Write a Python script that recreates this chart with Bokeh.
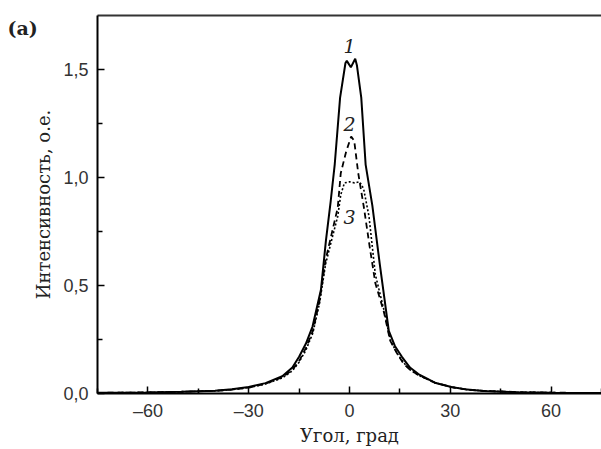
from bokeh.plotting import figure
from bokeh.models import Range1d, FixedTicker, LinearAxis, Label
from bokeh.embed import file_html
from bokeh.resources import INLINE
from bokeh.core.properties import value

# Curve 1 (solid)
x1 = [-75, -60, -50, -40, -35, -30, -25, -20, -17, -15, -13, -11, -8.5, -7, -5.6, -4.4, -2.8, -1.2, -0.8, 0.4,
      1.7, 2.2, 3.5, 4.8, 6.8, 9, 11.7, 13.5, 15.6, 18, 20.5, 25.4, 30.3, 35, 40, 50, 60, 75]
y1 = [0.003, 0.005, 0.008, 0.013, 0.02, 0.03, 0.048, 0.08, 0.12, 0.17, 0.23, 0.31, 0.48, 0.71, 0.89, 1.06, 1.37, 1.53, 1.54, 1.51,
      1.55, 1.52, 1.37, 1.06, 0.87, 0.6, 0.29, 0.22, 0.17, 0.12, 0.09, 0.05, 0.03, 0.018, 0.012, 0.006, 0.004, 0.002]
# Curve 2 (dashed)
x2 = [-75, -60, -50, -40, -35, -30, -25, -20, -17, -15, -13, -10.9, -8.9, -7.1, -5, -3.5, -2.6, -1, 0.5, 1.4,
      2.6, 4.3, 6, 7.7, 10.2, 12.1, 14, 16, 18, 20.5, 25.4, 30.3, 35, 40, 50, 60, 75]
y2 = [0.003, 0.005, 0.008, 0.012, 0.018, 0.027, 0.045, 0.075, 0.11, 0.15, 0.21, 0.29, 0.43, 0.62, 0.76, 0.86, 1.02, 1.12, 1.19, 1.17,
      1.02, 0.86, 0.68, 0.51, 0.38, 0.245, 0.19, 0.14, 0.11, 0.085, 0.05, 0.03, 0.018, 0.012, 0.006, 0.004, 0.002]
# Curve 3 (dotted)
x3 = [-75, -60, -50, -40, -35, -30, -25, -20, -17, -15, -13, -10.9, -8.9, -7.1, -5, -3.5, -2.6, -1.5, 0, 1.5,
      3.0, 3.8, 4.3, 5.8, 7.7, 10.2, 12.1, 14, 16, 18, 20.5, 25.4, 30.3, 35, 40, 50, 60, 75]
y3 = [0.003, 0.005, 0.008, 0.012, 0.018, 0.027, 0.044, 0.072, 0.105, 0.145, 0.2, 0.28, 0.42, 0.6, 0.73, 0.82, 0.92, 0.975, 0.98, 0.975,
      0.98, 0.96, 0.94, 0.82, 0.55, 0.39, 0.25, 0.19, 0.145, 0.11, 0.085, 0.05, 0.03, 0.018, 0.012, 0.006, 0.004, 0.002]

x_major = [-60, -30, 0, 30, 60]
x_minor = [-75, -45, -15, 15, 45, 75]
x_labels = {-60: "\u201360", -30: "\u201330", 0: "0", 30: "30", 60: "60"}
y_major = [0, 0.5, 1.0, 1.5]
y_minor = [0.25, 0.75, 1.25]
y_labels = {0: "0,0", 0.5: "0,5", 1: "1,0", 1.5: "1,5"}

curve_labels = ["1", "2", "3"]
label_x = [0, 0, 0]
label_y = [1.61, 1.25, 0.815]

p = figure(width=601, height=449, output_backend="svg", toolbar_location=None,
           x_range=Range1d(-75, 75), y_range=Range1d(0, 1.75),
           min_border_left=92, min_border_right=0, min_border_top=15, min_border_bottom=56)
p.grid.visible = False
p.outline_line_color = None
p.background_fill_color = "white"

p.line(x1, y1, line_color="black", line_width=2)
p.line(x2, y2, line_color="black", line_width=1.8, line_dash="6 4")
p.line(x3, y3, line_color="black", line_width=1.6, line_dash="2 2")

p.text(x=label_x, y=label_y, text=curve_labels, text_font=value("DejaVu Serif"),
       text_font_style="italic", text_font_size="19px", text_align="center",
       text_baseline="middle", text_color="#222222")

for ax in (p.xaxis[0], p.yaxis[0]):
    ax.axis_line_width = 2
    ax.axis_line_color = "black"
    ax.major_tick_in = 7
    ax.major_tick_out = 0
    ax.minor_tick_in = 5
    ax.minor_tick_out = 0
    ax.major_tick_line_width = 1.5
    ax.minor_tick_line_width = 1.5
    ax.major_label_text_font = "Liberation Sans Narrow, Liberation Sans"
    ax.major_label_text_font_size = "18px"
    ax.major_label_text_color = "#333333"
    ax.axis_label_text_font = "DejaVu Serif"
    ax.axis_label_text_font_size = "18px"
    ax.axis_label_text_font_style = "normal"
    ax.axis_label_text_color = "#222222"

p.xaxis[0].ticker = FixedTicker(ticks=x_major, minor_ticks=x_minor)
p.xaxis[0].major_label_overrides = x_labels
p.xaxis[0].axis_label = "Угол, град"
p.xaxis[0].major_label_standoff = 7
p.xaxis[0].axis_label_standoff = 1

p.yaxis[0].ticker = FixedTicker(ticks=y_major, minor_ticks=y_minor)
p.yaxis[0].major_label_overrides = y_labels
p.yaxis[0].axis_label = "Интенсивность, о.е."
p.yaxis[0].major_label_standoff = 9
p.yaxis[0].axis_label_standoff = 6

top = LinearAxis(ticker=FixedTicker(ticks=[]), major_label_text_font_size="0px",
                 axis_line_width=2, axis_line_color="#333333",
                 major_tick_line_color=None, minor_tick_line_color=None)
p.add_layout(top, "above")

p.add_layout(Label(x=7, y=27, x_units="canvas", y_units="canvas", text="(a)",
                   text_font="DejaVu Serif",
                   text_font_style="bold", text_font_size="19px",
                   text_baseline="middle", text_align="left", text_color="#222222"), "left")

open("out.html", "w").write(file_html(p, INLINE))
